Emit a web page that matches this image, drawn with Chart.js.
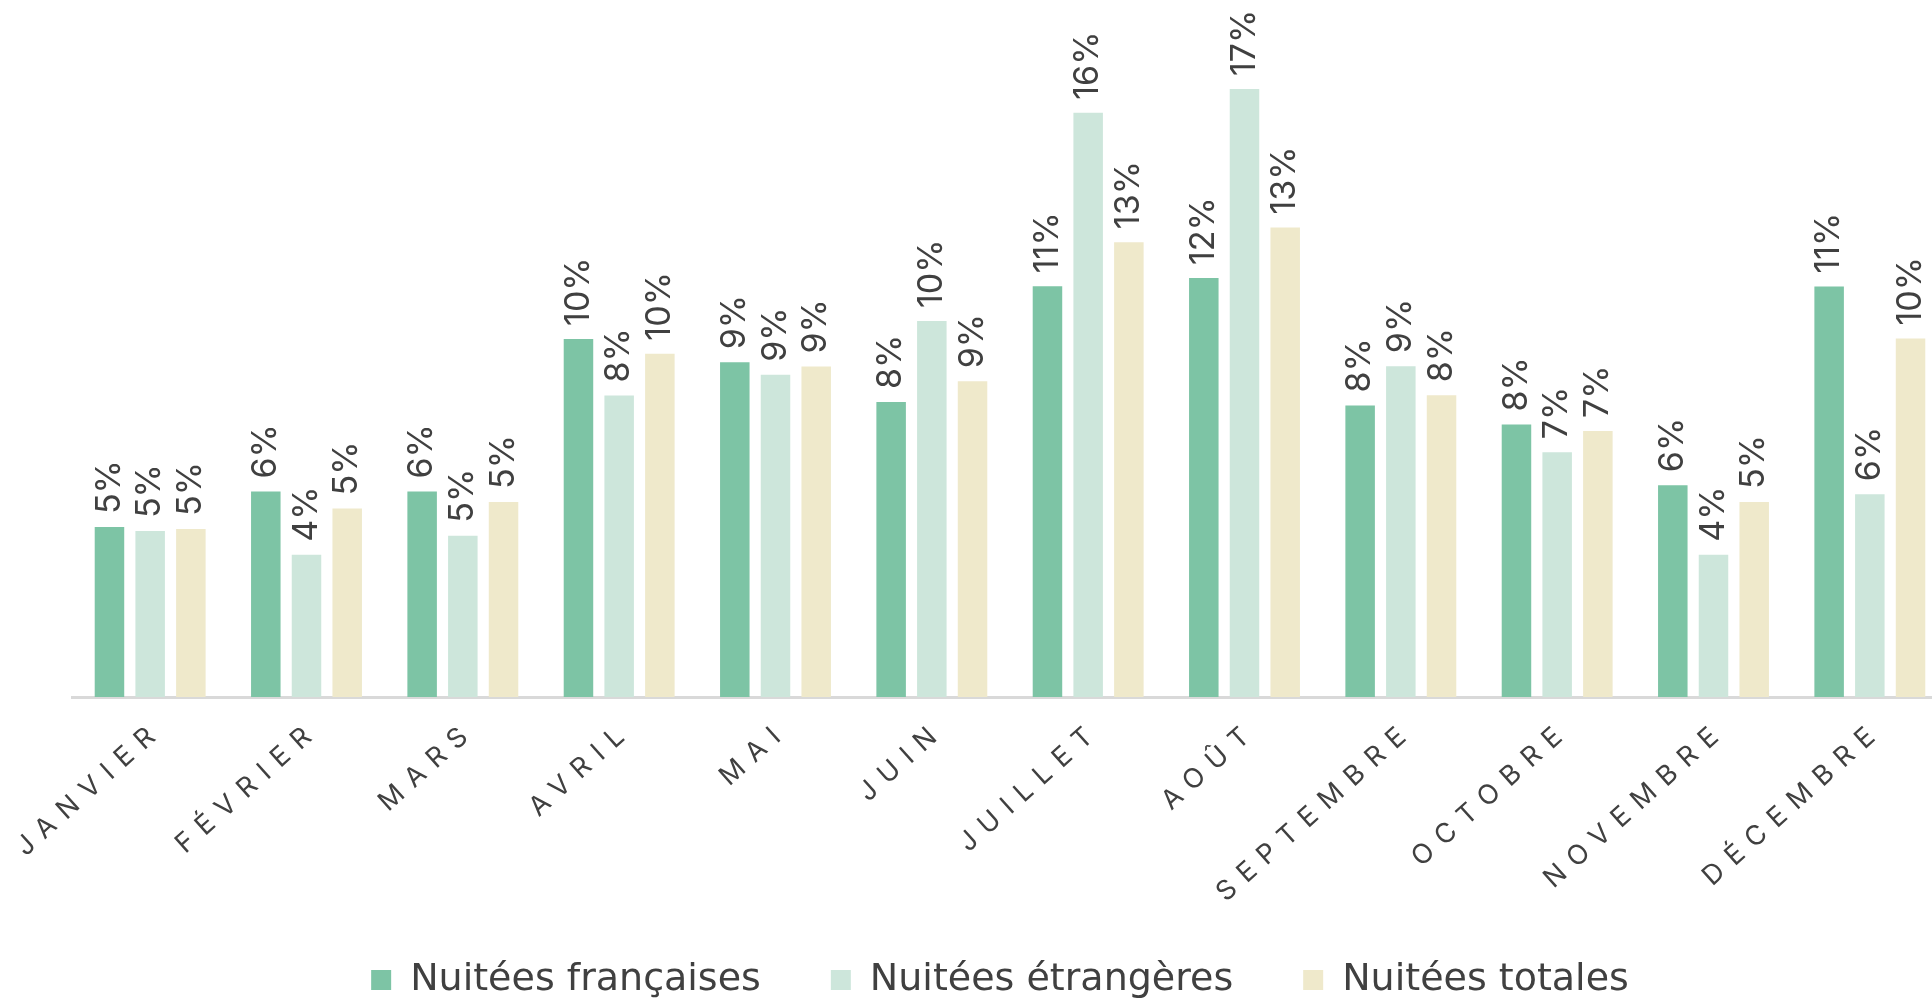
<!DOCTYPE html>
<html lang="fr">
<head>
<meta charset="utf-8">
<title>Nuitées par mois</title>
<script src="https://cdn.jsdelivr.net/npm/chart.js@4.4.1/dist/chart.umd.min.js"></script>
<style>
  html, body { margin: 0; padding: 0; background: #fff; overflow: hidden; }
</style>
</head>
<body>
<canvas id="place__graph1" width="1960" height="1009"></canvas>
<script>
// Mois (axe des x)
const mois = ['JANVIER', 'FÉVRIER', 'MARS', 'AVRIL', 'MAI', 'JUIN', 'JUILLET', 'AOÛT', 'SEPTEMBRE', 'OCTOBRE', 'NOVEMBRE', 'DÉCEMBRE'];

// Part des nuitées par mois, en %
const nuiteesFrancaises = [4.74, 5.73, 5.73, 9.99, 9.34, 8.23, 11.46, 11.69, 8.13, 7.60, 5.91, 11.45];
const nuiteesEtrangeres = [4.63, 3.97, 4.50, 8.41, 8.99, 10.49, 16.30, 16.96, 9.23, 6.83, 3.97, 5.66];
const nuiteesTotales = [4.69, 5.26, 5.44, 9.58, 9.22, 8.81, 12.69, 13.10, 8.42, 7.42, 5.44, 10.00];

const libelles = ['Nuitées françaises', 'Nuitées étrangères', 'Nuitées totales'];
const couleurs = ['#7dc4a5', '#cde6db', '#efe9cb'];

const couleurTexte = '#404040';

// espacement des lettres pour les mois (et pas de découpe des libellés)
const espacementLettres = {
    id: 'espacementLettres',
    afterLayout(chart) {
        // légende un peu plus à gauche
        if (chart.legend) chart.legend.right -= 20;
    },
    beforeDraw(chart) {
        const sx = chart.scales.x;
        if (sx && !sx._espace) {
            const orig = sx.drawLabels.bind(sx);
            sx._computeLabelArea = () => undefined;
            sx.drawLabels = (area) => {
                chart.ctx.save();
                chart.ctx.letterSpacing = '10.5px';
                orig(area);
                chart.ctx.restore();
            };
            sx._espace = true;
        }
    }
};

// pourcentages verticaux au-dessus des barres
const etiquettes = {
    id: 'etiquettes',
    afterDatasetsDraw(chart) {
        const ctx = chart.ctx;
        ctx.save();
        ctx.font = '34px Inter';
        ctx.fillStyle = couleurTexte;
        ctx.textAlign = 'left';
        ctx.textBaseline = 'middle';
        chart.data.datasets.forEach((ds, i) => {
            chart.getDatasetMeta(i).data.forEach((bar, j) => {
                ctx.save();
                ctx.translate(bar.x, bar.y - 13);
                ctx.rotate(-Math.PI / 2);
                ctx.fillText(Math.round(ds.data[j]) + '%', 0, 0);
                ctx.restore();
            });
        });
        ctx.restore();
    }
};

function createChart(ctx) {
    const series = [nuiteesFrancaises, nuiteesEtrangeres, nuiteesTotales];
    return new Chart(ctx, {
        type: 'bar',
        data: {
            labels: mois,
            datasets: series.map((d, i) => ({
                label: libelles[i],
                data: d,
                backgroundColor: couleurs[i],
                borderWidth: 0,
                categoryPercentage: 0.781,
                barPercentage: 0.725
            }))
        },
        options: {
            responsive: false,
            animation: false,
            layout: { padding: { left: 72, right: 12, top: 16, bottom: 0 } },
            scales: {
                x: {
                    grid: { display: false, drawTicks: false },
                    border: { display: true, color: '#d9d9d9', width: 3 },
                    ticks: {
                        autoSkip: false,
                        minRotation: 42,
                        maxRotation: 42,
                        padding: 17,
                        labelOffset: 9,
                        color: couleurTexte,
                        font: { family: 'Inter', size: 27 }
                    },
                    afterFit(scale) { scale.height = 194; }
                },
                y: { display: false, min: 0, max: 19 }
            },
            plugins: {
                legend: {
                    position: 'bottom',
                    labels: {
                        boxWidth: 20,
                        boxHeight: 20,
                        padding: 70,
                        color: couleurTexte,
                        font: { family: 'DejaVu Sans', size: 38 }
                    }
                },
                tooltip: { enabled: false }
            }
        },
        plugins: [espacementLettres, etiquettes]
    });
}

const ctx = document.getElementById('place__graph1').getContext('2d');
const chart = createChart(ctx);
</script>
</body>
</html>
